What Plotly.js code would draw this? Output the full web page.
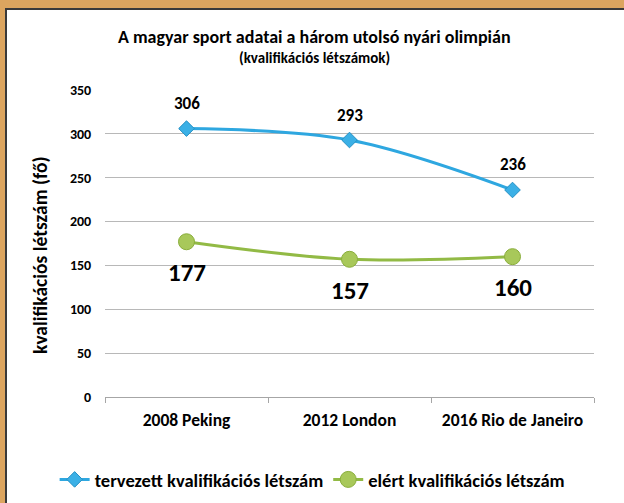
<!DOCTYPE html>
<html>
<head>
<meta charset="utf-8">
<script src="https://cdn.plot.ly/plotly-3.0.1.min.js"></script>
<style>
  html, body { margin: 0; padding: 0; }
  #frame { position: absolute; left: 0; top: 0; width: 624px; height: 503px; background: #DCA55F; overflow: hidden; }
  #inner { position: absolute; left: 5px; top: 8px; width: 619px; height: 495px; background: #fff;
           border-left: 2px solid #3a3a3a; border-top: 2px solid #3a3a3a; }
  #chart { position: absolute; left: 0; top: 0; width: 617px; height: 493px; }
</style>
</head>
<body>
<div id="frame"><div id="inner"><div id="chart"></div></div></div>
<script>
const categories = ["2008 Peking", "2012 London", "2016 Rio de Janeiro"];
const planned = [306, 293, 236];
const achieved = [177, 157, 160];
const seriesNames = ["tervezett kvalifikációs létszám", "elért kvalifikációs létszám"];
const titleText = "A magyar sport adatai a három utolsó nyári olimpián";
const subtitleText = "(kvalifikációs létszámok)";
const yTitle = "kvalifikációs létszám (fő)";

const FONT = "Carlito, Lato, 'Open Sans', sans-serif";
const BLUE = "#2EA7E0";
const GREEN = "#92BA45";

const traces = [
  {
    x: categories, y: planned, name: seriesNames[0], type: "scatter", mode: "lines+markers",
    line: { color: BLUE, width: 3, shape: "spline", smoothing: 1 },
    marker: { symbol: "diamond", size: 12, color: "#3BB0E6", line: { color: "#2590C4", width: 1 } },
    hoverinfo: "skip"
  },
  {
    x: categories, y: achieved, name: seriesNames[1], type: "scatter", mode: "lines+markers",
    line: { color: GREEN, width: 3, shape: "spline", smoothing: 1 },
    marker: { symbol: "circle", size: 16, color: "#A8C85A", line: { color: "#8AAE3C", width: 1 } },
    hoverinfo: "skip"
  }
];

const annotations = [];
categories.forEach((c, i) => {
  annotations.push({ x: c, y: planned[i], xref: "x", yref: "y", text: String(planned[i]), showarrow: false,
    yshift: 25, yanchor: "middle", font: { family: FONT, size: 17, color: "#000", weight: "bold" } });
  annotations.push({ x: c, y: achieved[i], xref: "x", yref: "y", text: String(achieved[i]), showarrow: false,
    yshift: -31, yanchor: "middle", font: { family: FONT, size: 25, color: "#000", weight: "bold" } });
});
annotations.push({ x: 0.4294, y: 1.172, xref: "paper", yref: "paper", text: titleText, showarrow: false,
  xanchor: "center", yanchor: "middle", font: { family: FONT, size: 18, color: "#000", weight: "bold" } });
annotations.push({ x: 0.4294, y: 1.104, xref: "paper", yref: "paper", text: subtitleText, showarrow: false,
  xanchor: "center", yanchor: "middle", font: { family: FONT, size: 15, color: "#000", weight: "bold" } });
annotations.push({ x: -0.133, y: 0.4625, xref: "paper", yref: "paper", text: yTitle, showarrow: false,
  textangle: -90, xanchor: "center", yanchor: "middle", font: { family: FONT, size: 19.5, color: "#000", weight: "bold" } });

const layout = {
  width: 617, height: 493,
  margin: { l: 98, r: 30, t: 80, b: 106, autoexpand: false },
  paper_bgcolor: "#fff", plot_bgcolor: "#fff",
  font: { family: FONT, color: "#000" },
  showlegend: true,
  legend: {
    orientation: "h", xref: "paper", yref: "paper", x: -0.103, y: -0.270,
    xanchor: "left", yanchor: "middle",
    font: { family: FONT, size: 18.5, color: "#000", weight: "bold" },
    itemwidth: 30, traceorder: "normal"
  },
  xaxis: {
    type: "category", range: [-0.5, 2.5], showgrid: false, showline: true, linecolor: "#A6A6A6", linewidth: 1,
    ticks: "outside", tickson: "boundaries", ticklen: 5, tickcolor: "#A6A6A6",
    ticklabelstandoff: 7, automargin: false,
    tickfont: { family: FONT, size: 17.5, color: "#000", weight: "bold" },
    zeroline: false, fixedrange: true
  },
  yaxis: {
    range: [0, 350], dtick: 50, showgrid: true, gridcolor: "#B8B8B8", gridwidth: 1,
    zeroline: false, showline: false, automargin: false,
    ticks: "outside", ticklen: 10, tickcolor: "rgba(0,0,0,0)",
    tickfont: { family: FONT, size: 14, color: "#000", weight: "bold" },
    fixedrange: true
  },
  annotations: annotations
};

Plotly.newPlot("chart", traces, layout, { displayModeBar: false, staticPlot: true });
</script>
</body>
</html>
